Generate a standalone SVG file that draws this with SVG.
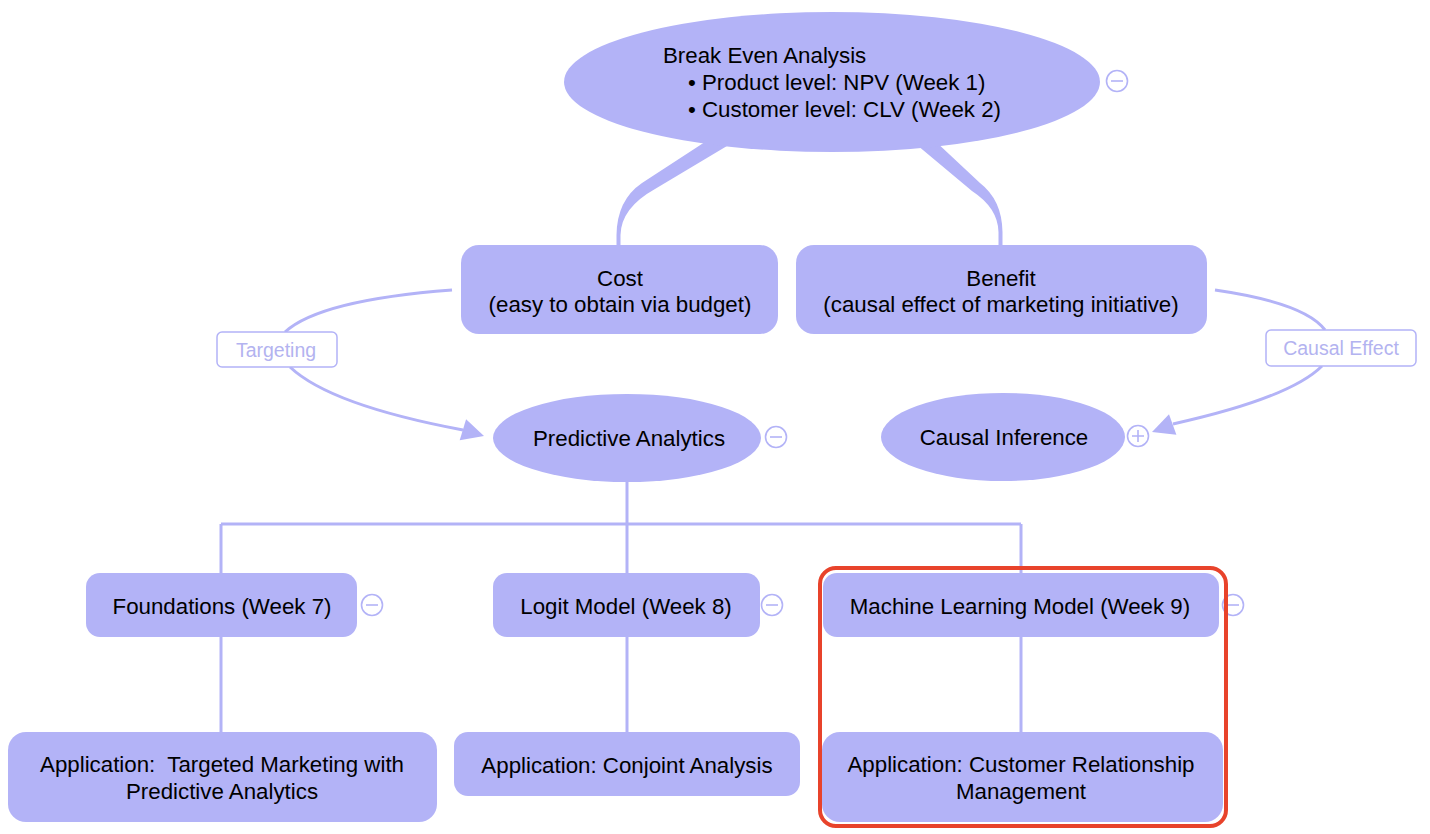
<svg xmlns="http://www.w3.org/2000/svg" width="1430" height="834" viewBox="0 0 1430 834">
<defs>
<style>
.n{fill:#b3b3f7;}
.t{font-family:"Liberation Sans",Arial,sans-serif;font-size:22.3px;fill:#000;text-anchor:middle;}
.ln{fill:none;stroke:#b3b3f7;stroke-width:3;}
.ah{fill:#b3b3f7;}
.lbl{fill:#fff;stroke:#b3b3f7;stroke-width:1.5;}
.lt{font-family:"Liberation Sans",Arial,sans-serif;font-size:19.5px;fill:#b3b3f0;text-anchor:middle;}
.tg{fill:#fff;stroke:#b3b3f7;stroke-width:1.6;}
.tgl{stroke:#b3b3f7;stroke-width:1.6;fill:none;}
</style>
</defs>
<rect width="1430" height="834" fill="#fff"/>
<g id="connectors">
<path class="n" d="M708,140 L737,140 L655,189 Q621,208 620.5,235 V246 H616.5 V235 Q617,200 642,183 Z"/>
<path class="n" d="M911,140 L934,140 L980,183 Q1002,200 1002.5,232 V246 H998.5 V232 Q998,208 972,191 Z"/>
<path class="ln" d="M452,290 Q320,300 285,332"/>
<path class="ln" d="M290,367 Q330,405 463,430"/>
<polygon class="ah" points="484,436 459.7,440.2 466.1,419.2"/>
<path class="ln" d="M1215,290 Q1305,303 1325,330"/>
<path class="ln" d="M1322,366 Q1290,398 1173,424"/>
<polygon class="ah" points="1152,432 1176.4,434.8 1169,414.2"/>
<path class="ln" d="M627,482 V524 M221,524 H1021 M221,524 V574 M627,524 V574 M1021,524 V574 M221,637 V733 M627,637 V733 M1021,637 V733"/>
</g>
<g id="label-targeting">
<rect class="lbl" x="217" y="332" width="120" height="35" rx="5"/>
<text class="lt" x="276" y="357">Targeting</text>
</g>
<g id="label-causal-effect">
<rect class="lbl" x="1266" y="330" width="150" height="36" rx="5"/>
<text class="lt" x="1341" y="355">Causal Effect</text>
</g>
<g id="break-even">
<ellipse class="n" cx="832" cy="82" rx="268" ry="70"/>
<text font-family="Liberation Sans,Arial,sans-serif" font-size="22.3" fill="#000">
<tspan x="663" y="63">Break Even Analysis</tspan>
<tspan x="688" y="90">• Product level: NPV (Week 1)</tspan>
<tspan x="688" y="117">• Customer level: CLV (Week 2)</tspan>
</text>
<circle class="tg" cx="1117" cy="81" r="10.5"/><path class="tgl" d="M1111,81 H1123"/>
</g>
<g id="cost">
<rect class="n" x="461" y="245" width="317" height="89" rx="18"/>
<text class="t" x="620" y="286">Cost</text>
<text class="t" x="620" y="312">(easy to obtain via budget)</text>
</g>
<g id="benefit">
<rect class="n" x="796" y="245" width="411" height="89" rx="18"/>
<text class="t" x="1001" y="286">Benefit</text>
<text class="t" x="1001" y="312">(causal effect of marketing initiative)</text>
</g>
<g id="predictive">
<ellipse class="n" cx="627" cy="438" rx="134" ry="44"/>
<text class="t" x="629" y="446">Predictive Analytics</text>
<circle class="tg" cx="776" cy="437" r="10.5"/><path class="tgl" d="M770,437 H782"/>
</g>
<g id="causal-inference">
<ellipse class="n" cx="1003" cy="437" rx="122" ry="44"/>
<text class="t" x="1004" y="445">Causal Inference</text>
<circle class="tg" cx="1138" cy="436" r="10.5"/><path class="tgl" d="M1132,436 H1144 M1138,430 V442"/>
</g>
<g id="foundations">
<rect class="n" x="86" y="573" width="271" height="64" rx="14"/>
<text class="t" x="222" y="614">Foundations (Week 7)</text>
<circle class="tg" cx="372" cy="605" r="10.5"/><path class="tgl" d="M366,605 H378"/>
</g>
<g id="logit">
<rect class="n" x="493" y="573" width="267" height="64" rx="14"/>
<text class="t" x="626" y="614">Logit Model (Week 8)</text>
<circle class="tg" cx="772" cy="605" r="10.5"/><path class="tgl" d="M766,605 H778"/>
</g>
<g id="ml">
<rect class="n" x="823" y="573" width="396" height="64" rx="14"/>
<text class="t" x="1020" y="614">Machine Learning Model (Week 9)</text>
<circle class="tg" cx="1233" cy="605" r="10.5"/><path class="tgl" d="M1227,605 H1239"/>
</g>
<g id="app-targeted">
<rect class="n" x="8" y="732" width="429" height="90" rx="18"/>
<text class="t" x="222" y="772" xml:space="preserve">Application:  Targeted Marketing with</text>
<text class="t" x="222" y="799">Predictive Analytics</text>
</g>
<g id="app-conjoint">
<rect class="n" x="454" y="732" width="346" height="64" rx="14"/>
<text class="t" x="627" y="773">Application: Conjoint Analysis</text>
</g>
<g id="app-crm">
<rect class="n" x="822" y="732" width="401" height="90" rx="18"/>
<text class="t" x="1021" y="772">Application: Customer Relationship</text>
<text class="t" x="1021" y="799">Management</text>
</g>
<g id="highlight">
<rect x="820" y="568" width="406" height="258" rx="16" fill="none" stroke="#e8432b" stroke-width="4"/>
</g>
</svg>
